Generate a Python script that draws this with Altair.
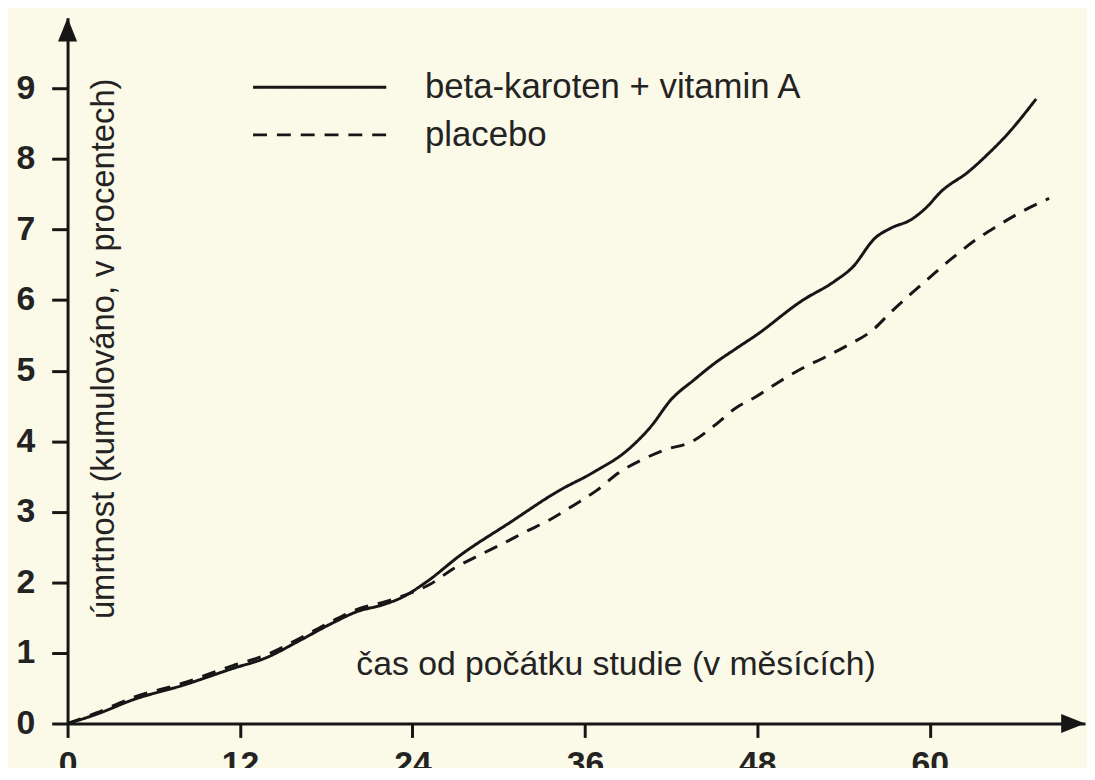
import altair as alt
import pandas as pd

# ---- data ----
series_names = ["beta-karoten + vitamin A", "placebo"]

beta_months = [0, 2, 4.6, 8, 11.5, 13.8, 16.1, 18.4, 20.2, 21.9, 23.2, 25, 27.3, 30.8,
               34.2, 36.6, 39, 40.6, 42, 43.6, 45, 46.5, 47.9, 51.1, 53.4, 54.6, 56.2,
               57.3, 58.7, 59.7, 60.8, 62.7, 64, 65.4, 67.4]
beta_values = [0, 0.13, 0.34, 0.54, 0.78, 0.93, 1.17, 1.42, 1.59, 1.68, 1.78, 2.01, 2.38,
               2.85, 3.3, 3.56, 3.88, 4.21, 4.59, 4.87, 5.1, 5.31, 5.5, 5.99, 6.27, 6.46,
               6.88, 7.02, 7.14, 7.3, 7.54, 7.82, 8.06, 8.35, 8.85]

placebo_months = [0, 2, 4.6, 8, 11.5, 13.8, 16.1, 18.4, 20.2, 22, 23.5, 25.2, 26.9, 28.5,
                  30.3, 31.9, 33.5, 35.2, 36.8, 38.4, 40, 41.6, 43.5, 45, 46.5, 47.9,
                  49.5, 51.1, 52.7, 54.3, 56, 57.3, 58.7, 60.1, 61.6, 63.1, 64.7, 66.2,
                  68.3]
placebo_values = [0, 0.15, 0.37, 0.57, 0.82, 0.97, 1.2, 1.45, 1.62, 1.72, 1.82, 1.97, 2.2,
                  2.37, 2.55, 2.72, 2.88, 3.09, 3.3, 3.56, 3.74, 3.88, 4.0, 4.22, 4.47,
                  4.63, 4.84, 5.03, 5.19, 5.36, 5.57, 5.83, 6.09, 6.34, 6.6, 6.84, 7.05,
                  7.23, 7.44]

x_ticks = [0, 12, 24, 36, 48, 60]
y_ticks = [0, 1, 2, 3, 4, 5, 6, 7, 8, 9]
x_title = "čas od počátku studie (v měsících)"
y_title = "úmrtnost (kumulováno, v procentech)"
X_MAX = 70.8
Y_MAX = 10

# ---- styling ----
INK = "#161616"
TEXT = "#232323"
BG = "#FBF9E8"
FONT = "Liberation Sans"

rows = []
for m, v in zip(beta_months, beta_values):
    rows.append({"month": m, "value": v, "series": series_names[0]})
for m, v in zip(placebo_months, placebo_values):
    rows.append({"month": m, "value": v, "series": series_names[1]})
df = pd.DataFrame(rows)

arrows = pd.DataFrame({
    "month": [0, X_MAX],
    "value": [Y_MAX, 0],
    "dir": ["up", "right"],
})

x_enc = alt.X(
    "month:Q",
    scale=alt.Scale(domain=[0, X_MAX], nice=False, zero=False),
    axis=alt.Axis(
        values=x_ticks, grid=False,
        domainColor=INK, domainWidth=3,
        tickColor=INK, tickWidth=3, tickSize=14,
        labelFont=FONT, labelFontSize=34, labelFontWeight="bold", labelColor=TEXT,
        labelPadding=10, labelFlush=False, labelOverlap=False,
        title=x_title, titleFont=FONT, titleFontSize=34, titleFontWeight="normal",
        titleColor=TEXT, titleX=552, titleY=-49, titleAlign="center",
        titleBaseline="alphabetic",
    ),
)
y_enc = alt.Y(
    "value:Q",
    scale=alt.Scale(domain=[0, Y_MAX], nice=False, zero=False),
    axis=alt.Axis(
        values=y_ticks, grid=False,
        domainColor=INK, domainWidth=3,
        tickColor=INK, tickWidth=3, tickSize=16,
        labelFont=FONT, labelFontSize=34, labelFontWeight="bold", labelColor=TEXT,
        labelPadding=17, labelFlush=False, labelOverlap=False,
        title=y_title, titleFont=FONT, titleFontSize=33, titleFontWeight="normal",
        titleColor=TEXT, titleX=36, titleY=333, titleAlign="center",
        titleBaseline="middle",
    ),
)

# legend key: a long horizontal stroke drawn by a custom symbol path
LEGEND_SYMBOL = "M-3,0L3,0"
LEGEND_SYMBOL_SIZE = 2000

lines = alt.Chart(df).mark_line(
    color=INK, strokeWidth=3, interpolate="monotone", clip=False
).encode(
    x=x_enc,
    y=y_enc,
    strokeDash=alt.StrokeDash(
        "series:N",
        scale=alt.Scale(domain=series_names, range=[[1, 0], [14, 10]]),
        legend=alt.Legend(
            orient="none", legendX=230, legendY=46, title=None, padding=0,
            direction="vertical",
            symbolType=LEGEND_SYMBOL, symbolSize=LEGEND_SYMBOL_SIZE,
            symbolStrokeWidth=3, symbolStrokeColor=INK,
            labelFont=FONT, labelFontSize=35, labelColor=TEXT, labelOffset=82,
            labelLimit=0, rowPadding=6,
        ),
    ),
    detail="series:N",
)

up_path = "M0,0L-0.8,2L0.8,2Z"
right_path = "M0,0L-2,-0.8L-2,0.8Z"
arrow_layer = alt.Chart(arrows).mark_point(
    filled=True, color=INK, opacity=1, size=576, clip=False, strokeWidth=0
).encode(
    x=x_enc,
    y=y_enc,
    shape=alt.Shape("dir:N", scale=alt.Scale(domain=["up", "right"],
                                            range=[up_path, right_path]),
                    legend=None),
)

chart = alt.layer(lines, arrow_layer).properties(
    width=1025, height=711,
    padding={"left": 60, "top": 7, "right": 2, "bottom": 42},
    autosize=alt.AutoSizeParams(type="none"),
    background=BG,
).configure_view(stroke=None)

chart.save("out.html", embed_options={"renderer": "svg", "actions": False})
